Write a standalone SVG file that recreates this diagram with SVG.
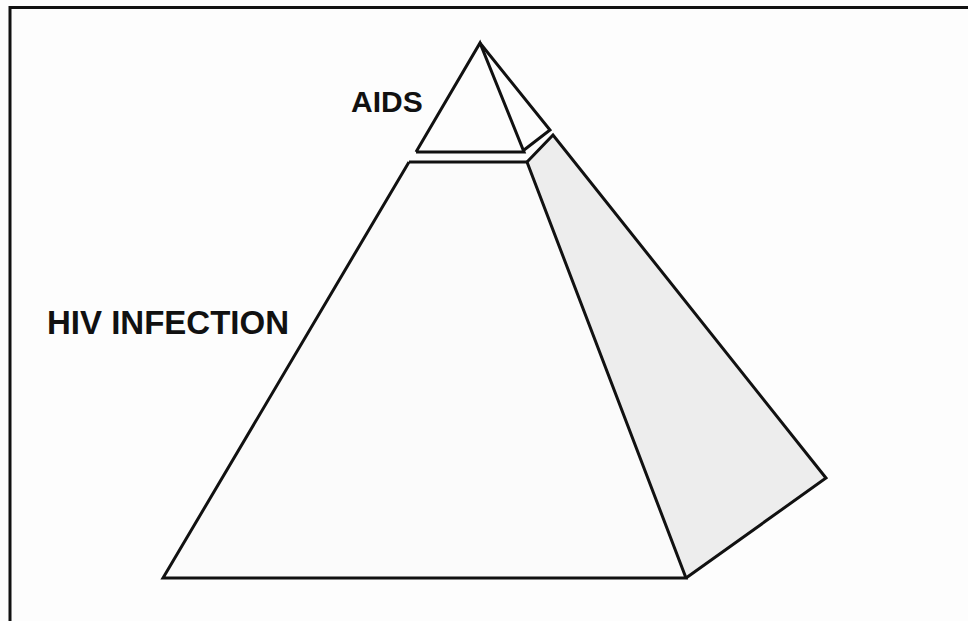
<svg xmlns="http://www.w3.org/2000/svg" width="968" height="621" viewBox="0 0 968 621">
<style>
.ln{stroke:#111;stroke-width:3;fill:none;stroke-linejoin:miter;stroke-linecap:butt}
.lbl{font-family:"Liberation Sans",Arial,sans-serif;font-weight:bold;fill:#111}
</style>
<rect width="968" height="621" fill="#fdfdfd"/>
<g id="frame">
<line class="ln" x1="10" y1="7.5" x2="968" y2="7.5"/>
<line class="ln" x1="10" y1="6" x2="10" y2="621" stroke-width="2.5"/>
</g>
<g id="pyramid">
<g id="side-face">
<polygon points="527,162 553,135 826,478 686,578" fill="#ededed"/>
</g>
<g id="hiv-base">
<polygon points="409,162 527,162 686,578 163,578" fill="#fbfbfb"/>
<polyline class="ln" points="409,162 527,162 686,578 163,578 409,162"/>
<polyline class="ln" points="527,162 553,135 826,478 686,578"/>
</g>
<g id="aids-top">
<polyline class="ln" points="416,152 524,152 480,43 416,152"/>
<polyline class="ln" points="480,43 550,130 524,150"/>
</g>
</g>
<g id="labels">
<text class="lbl" x="351" y="112" font-size="30">AIDS</text>
<text class="lbl" x="47" y="334" font-size="33">HIV INFECTION</text>
</g>
</svg>
